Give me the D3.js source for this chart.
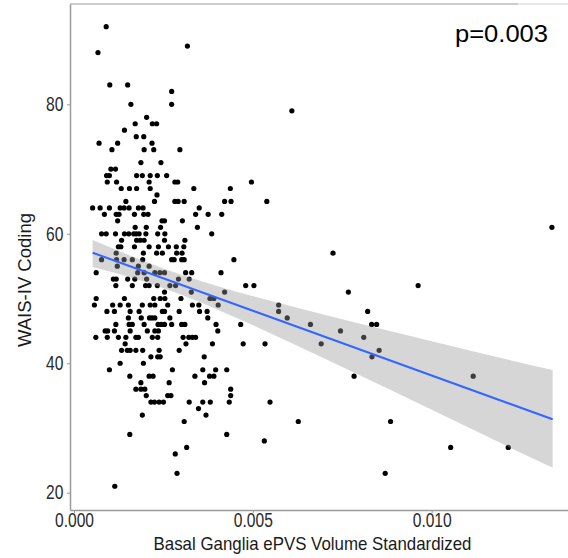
<!DOCTYPE html>
<html>
<head>
<meta charset="utf-8">
<script src="https://cdn.jsdelivr.net/npm/d3@7"></script>
<style>
  html, body { margin: 0; padding: 0; background: #fff; }
  svg { display: block; }
</style>
</head>
<body>
<div id="chart"></div>
<script>
// Basal ganglia ePVS volume (x) vs WAIS-IV coding score (y)
const points = [
  [0.00090, 92], [0.00317, 89], [0.00067, 88], [0.00100, 83], [0.00150, 83], [0.00273, 82],
  [0.00159, 80], [0.00273, 80], [0.00609, 79], [0.00203, 78],
  [0.00171, 77], [0.00219, 77], [0.00231, 77], [0.00141, 76], [0.00174, 75], [0.00195, 75],
  [0.00070, 74], [0.00122, 74], [0.00218, 74],
  [0.00106, 73], [0.00196, 73], [0.00223, 73], [0.00296, 73],
  [0.00187, 71], [0.00243, 71], [0.00103, 70], [0.00116, 70],
  [0.00091, 69], [0.00099, 69], [0.00175, 69], [0.00191, 69], [0.00213, 69], [0.00233, 69], [0.00259, 69],
  [0.00093, 68], [0.00119, 68], [0.00210, 68], [0.00282, 68], [0.00290, 68], [0.00496, 68],
  [0.00132, 67], [0.00155, 67], [0.00175, 67], [0.00213, 67], [0.00335, 67], [0.00437, 67],
  [0.00232, 66],
  [0.00145, 65], [0.00225, 65], [0.00282, 65], [0.00291, 65], [0.00308, 65], [0.00421, 65], [0.00439, 65], [0.00539, 65],
  [0.00052, 64], [0.00073, 64], [0.00099, 64], [0.00129, 64], [0.00140, 64], [0.00154, 64], [0.00180, 64], [0.00193, 64], [0.00350, 64],
  [0.00085, 63], [0.00118, 63], [0.00126, 63], [0.00169, 63], [0.00195, 63], [0.00207, 63], [0.00340, 63], [0.00375, 63], [0.00413, 63],
  [0.00122, 62], [0.00246, 62], [0.00253, 62], [0.00303, 62],
  [0.00171, 61], [0.00202, 61], [0.00242, 61], [0.00345, 61], [0.01336, 61],
  [0.00077, 60], [0.00090, 60], [0.00116, 60], [0.00141, 60], [0.00153, 60], [0.00167, 60], [0.00174, 60], [0.00182, 60], [0.00201, 60], [0.00234, 60], [0.00254, 60], [0.00385, 60],
  [0.00133, 59], [0.00175, 59], [0.00185, 59], [0.00196, 59], [0.00253, 59], [0.00310, 59],
  [0.00124, 58], [0.00131, 58], [0.00169, 58], [0.00210, 58], [0.00236, 58], [0.00264, 58], [0.00286, 58], [0.00307, 58],
  [0.00118, 57], [0.00194, 57], [0.00231, 57], [0.00247, 57], [0.00287, 57], [0.00302, 57], [0.00724, 57],
  [0.00077, 56], [0.00119, 56], [0.00140, 56], [0.00163, 56], [0.00192, 56], [0.00273, 56], [0.00280, 56], [0.00301, 56], [0.00308, 56], [0.00447, 56],
  [0.00121, 55], [0.00180, 55], [0.00210, 55],
  [0.00062, 54], [0.00178, 54], [0.00196, 54], [0.00226, 54], [0.00240, 54], [0.00253, 54], [0.00312, 54], [0.00329, 54], [0.00411, 54],
  [0.00110, 53], [0.00118, 53], [0.00150, 53], [0.00170, 53], [0.00203, 53], [0.00292, 53], [0.00322, 53],
  [0.00117, 52], [0.00163, 52], [0.00200, 52], [0.00210, 52], [0.00233, 52], [0.00268, 52], [0.00284, 52], [0.00480, 52], [0.00503, 52], [0.00962, 52],
  [0.00253, 51], [0.00328, 51], [0.00421, 51], [0.00767, 51],
  [0.00062, 50], [0.00141, 50], [0.00223, 50], [0.00241, 50], [0.00254, 50], [0.00299, 50], [0.00380, 50], [0.00391, 50],
  [0.00057, 49], [0.00108, 49], [0.00129, 49], [0.00152, 49], [0.00191, 49], [0.00213, 49], [0.00226, 49], [0.00262, 49], [0.00331, 49], [0.00349, 49], [0.00403, 49], [0.00572, 49],
  [0.00092, 48], [0.00113, 48], [0.00157, 48], [0.00182, 48], [0.00247, 48], [0.00253, 48], [0.00294, 48], [0.00351, 48], [0.00372, 48], [0.00572, 48], [0.00821, 48],
  [0.00152, 47], [0.00188, 47], [0.00211, 47], [0.00218, 47], [0.00226, 47], [0.00268, 47], [0.00374, 47], [0.00596, 47],
  [0.00117, 46], [0.00154, 46], [0.00163, 46], [0.00196, 46], [0.00235, 46], [0.00244, 46], [0.00253, 46], [0.00273, 46], [0.00301, 46], [0.00310, 46], [0.00397, 46], [0.00466, 46], [0.00661, 46], [0.00832, 46], [0.00846, 46],
  [0.00087, 45], [0.00094, 45], [0.00113, 45], [0.00157, 45], [0.00205, 45], [0.00226, 45], [0.00236, 45], [0.00402, 45], [0.00745, 45],
  [0.00061, 44], [0.00093, 44], [0.00124, 44], [0.00145, 44], [0.00173, 44], [0.00180, 44], [0.00219, 44], [0.00234, 44], [0.00305, 44], [0.00321, 44], [0.00331, 44], [0.00340, 44], [0.00810, 44],
  [0.00143, 43], [0.00313, 43], [0.00387, 43], [0.00473, 43], [0.00534, 43], [0.00691, 43],
  [0.00133, 42], [0.00149, 42], [0.00157, 42], [0.00173, 42], [0.00192, 42], [0.00238, 42], [0.00294, 42], [0.00853, 42],
  [0.00215, 41], [0.00234, 41], [0.00241, 41], [0.00364, 41], [0.00833, 41],
  [0.00129, 40], [0.00194, 40],
  [0.00099, 39], [0.00275, 39], [0.00360, 39], [0.00396, 39], [0.00427, 39],
  [0.00156, 38], [0.00210, 38], [0.00221, 38], [0.00338, 38], [0.00379, 38], [0.00391, 38], [0.00783, 38], [0.01116, 38],
  [0.00187, 37], [0.00266, 37], [0.00365, 37],
  [0.00173, 36], [0.00187, 36], [0.00198, 36], [0.00438, 36],
  [0.00202, 35], [0.00262, 35], [0.00271, 35], [0.00438, 35],
  [0.00215, 34], [0.00225, 34], [0.00238, 34], [0.00250, 34], [0.00322, 34], [0.00360, 34], [0.00381, 34], [0.00434, 34], [0.00548, 34],
  [0.00348, 33], [0.00191, 32], [0.00369, 32],
  [0.00308, 31], [0.00627, 31], [0.00885, 31],
  [0.00156, 29], [0.00427, 29], [0.00532, 28],
  [0.00315, 27], [0.01053, 27], [0.01214, 27],
  [0.00283, 26], [0.00288, 23], [0.00870, 23], [0.00114, 21]
]

// linear fit and its 95% band, sampled along x
const bandX    = [0.00052, 0.0020, 0.0030, 0.0040, 0.0060, 0.0080, 0.0100, 0.0120, 0.01338]
const bandLow  = [54.87, 52.54, 50.57, 48.32, 43.33, 38.10, 32.81, 27.47, 23.86]
const bandHigh = [59.04, 55.70, 53.67, 51.92, 48.91, 46.12, 43.41, 40.73, 38.96]
const fitX = [0.00052, 0.01338]
const fitY = [57.08, 31.34]

const xTicks = [0, 0.005, 0.010]
const yTicks = [20, 40, 60, 80]
const pLabel = 'p=0.003'
const xTitle = 'Basal Ganglia ePVS Volume Standardized'
const yTitle = 'WAIS-IV Coding'

const width = 568
const height = 558
const panel = { left: 70, right: 568, top: 4, bottom: 510 }
const font = '"Liberation Sans", Arial, sans-serif'
const squeeze = 0.8   // tick labels are set in a narrow face

const svg = d3.select('#chart')
  .append('svg')
  .attr('width', width)
  .attr('height', height)
  .attr('viewBox', [0, 0, width, height])

const x = d3.scaleLinear()
  .domain([-0.000112, 0.01381])
  .range([panel.left, panel.right])

const y = d3.scaleLinear()
  .domain([17.33, 95.5])
  .range([panel.bottom, panel.top])

// Points
svg.append('g')
  .selectAll('circle')
  .data(points)
  .join('circle')
  .attr('cx', d => x(d[0]))
  .attr('cy', d => y(d[1]))
  .attr('r', 2.6)
  .attr('fill', '#000')

// Confidence band (drawn over the points, like ggplot)
const band = bandX.map((v, i) => ({ x: v, lo: bandLow[i], hi: bandHigh[i] }))
svg.append('path')
  .datum(band)
  .attr('fill', '#999999')
  .attr('fill-opacity', 0.4)
  .attr('d', d3.area()
    .x(d => x(d.x))
    .y0(d => y(d.lo))
    .y1(d => y(d.hi))
    .curve(d3.curveMonotoneX))

// Fit line
svg.append('path')
  .datum(fitX.map((v, i) => [v, fitY[i]]))
  .attr('fill', 'none')
  .attr('stroke', '#3366FF')
  .attr('stroke-width', 2)
  .attr('d', d3.line().x(d => x(d[0])).y(d => y(d[1])))

// Top border
svg.append('line')
  .attr('x1', panel.left).attr('x2', 518)
  .attr('y1', panel.top).attr('y2', panel.top)
  .attr('stroke', '#9a9a9a').attr('stroke-width', 1.2)
svg.append('line')
  .attr('x1', 518).attr('x2', panel.right)
  .attr('y1', panel.top).attr('y2', panel.top)
  .attr('stroke', '#d0d0d0').attr('stroke-width', 1.2)

// Axes
const yAxis = svg.append('g')
  .attr('transform', `translate(${panel.left},0)`)
  .call(d3.axisLeft(y).tickValues(yTicks).tickSize(3).tickSizeOuter(0))

const xAxis = svg.append('g')
  .attr('transform', `translate(0,${panel.bottom})`)
  .call(d3.axisBottom(x).tickValues(xTicks).tickFormat(d3.format('.3f')).tickSize(3).tickSizeOuter(0))

;[yAxis, xAxis].forEach(ax => {
  ax.select('.domain').attr('stroke', '#9a9a9a').attr('stroke-width', 1.5)
  ax.selectAll('.tick line').attr('stroke', '#9a9a9a')
  ax.selectAll('.tick text')
    .attr('fill', '#2b2b2b')
    .attr('font-family', font)
    .attr('font-size', '19.5px')
    .attr('transform', `scale(${squeeze},1)`)
})
yAxis.selectAll('.tick text').attr('x', -6.7 / squeeze)
xAxis.selectAll('.tick text').attr('y', 17).attr('dy', 0)

// Axis titles
svg.append('text')
  .attr('x', 312.5)
  .attr('y', 550)
  .attr('text-anchor', 'middle')
  .attr('fill', '#1a1a1a')
  .attr('font-family', font)
  .attr('font-size', '19px')
  .attr('textLength', 318)
  .attr('lengthAdjust', 'spacingAndGlyphs')
  .text(xTitle)

svg.append('text')
  .attr('transform', 'translate(31,280) rotate(-90)')
  .attr('text-anchor', 'middle')
  .attr('fill', '#1a1a1a')
  .attr('font-family', font)
  .attr('font-size', '19px')
  .attr('textLength', 134)
  .attr('lengthAdjust', 'spacingAndGlyphs')
  .text(yTitle)

// p-value annotation
svg.append('text')
  .attr('x', 455)
  .attr('y', 41.5)
  .attr('fill', '#000')
  .attr('font-family', font)
  .attr('font-size', '23px')
  .attr('textLength', 93)
  .attr('lengthAdjust', 'spacingAndGlyphs')
  .text(pLabel)
</script>
</body>
</html>
